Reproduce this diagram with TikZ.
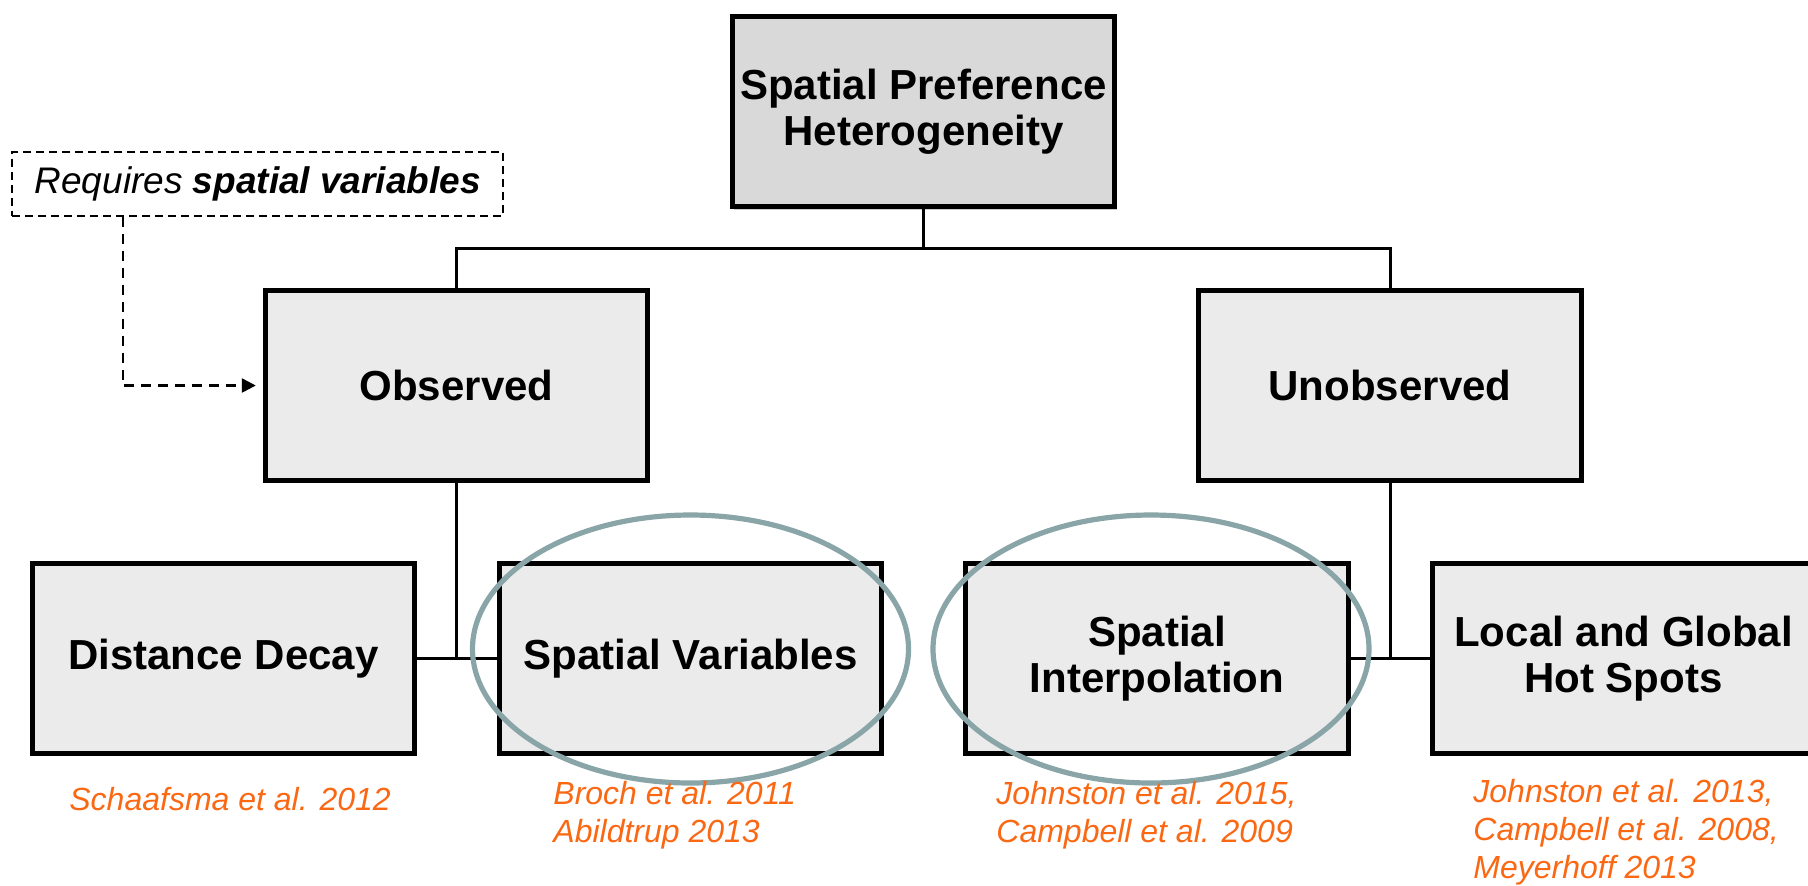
\documentclass[tikz,border=0pt]{standalone}
\usepackage{fontspec}
\setmainfont{Liberation Sans}
\usetikzlibrary{shapes.geometric,arrows.meta,shadows}
\definecolor{boxfill}{RGB}{235,235,235}
\definecolor{topfill}{RGB}{217,217,217}
\definecolor{ringcol}{RGB}{137,165,167}
\definecolor{refcol}{RGB}{250,104,20}
\begin{document}
\begin{tikzpicture}[x=0.5pt,y=-0.5pt,
  box/.style={draw=black, line width=2.4pt, fill=boxfill, minimum width=191.3pt,
    minimum height=95.3pt, inner sep=0pt, align=center,
    font=\bfseries\fontsize{21}{23}\selectfont,
    drop shadow={shadow xshift=0.5pt, shadow yshift=-1pt, opacity=0.35}},
  topbox/.style={box, fill=topfill,
    drop shadow={shadow xshift=1pt, shadow yshift=-1.5pt, opacity=0.4}},
  link/.style={draw=black, line width=1.5pt},
  ring/.style={ellipse, draw=ringcol, line width=2.6pt, inner sep=0pt,
    minimum width=218pt, minimum height=134pt},
  ref/.style={text=refcol, inner sep=0pt, align=left,
    font=\itshape\fontsize{16}{19}\selectfont},
  note/.style={draw=black, line width=1pt, dash pattern=on 4pt off 2.5pt,
    minimum width=245.5pt, minimum height=32pt, inner sep=0pt,
    font=\itshape\fontsize{18.5}{22}\selectfont},
  notelink/.style={draw=black, line width=1.2pt, dash pattern=on 5pt off 3.5pt,
    -{Triangle[length=7pt,width=7pt]}, shorten >=3.5pt}
]
\useasboundingbox (0,0) rectangle (1808,885);

% boxes
\node[topbox] (top) at (923.5,111.5) {Spatial Preference\\Heterogeneity};
\node[box] (obs) at (456.5,385.5) {Observed};
\node[box] (unobs) at (1390,385.5) {Unobserved};
\node[box] (dd) at (223.5,658.5) {Distance Decay};
\node[box] (sv) at (690.5,658.5) {Spatial Variables};
\node[box] (si) at (1157,658.5) {Spatial\\Interpolation};
\node[box] (lg) at (1623.5,658.5) {Local and Global\\Hot Spots};

% note
\node[note] (req) at (257.75,183.5) {Requires \textbf{spatial variables}};

% connectors
\coordinate (bus) at (923.5,248);
\draw[link] (top.south) -- (bus);
\draw[link] (obs.north) |- (bus) -| (unobs.north);
\draw[link] (dd.east) -- (sv.west);
\draw[link] (obs.south) -- (obs.south |- dd.east);
\draw[link] (si.east) -- (lg.west);
\draw[link] (unobs.south) -- (unobs.south |- si.east);
\draw[notelink] ([xshift=55.75pt]req.south west) |- (obs.west);

% highlight rings
\node[ring] (ring1) at (690.5,649) {};
\node[ring] (ring2) at (1151,649) {};

% references
\node[ref, anchor=west] (r1) at (69,799) {Schaafsma et al. 2012};
\node[ref, anchor=west] (r2) at (553,815) {Broch et al. 2011\\Abildtrup 2013};
\node[ref, anchor=west] (r3) at (996,815) {Johnston et al. 2015,\\Campbell et al. 2009};
\node[ref, anchor=west] (r4) at (1473,832) {Johnston et al. 2013,\\Campbell et al. 2008,\\Meyerhoff 2013};
\end{tikzpicture}
\end{document}
